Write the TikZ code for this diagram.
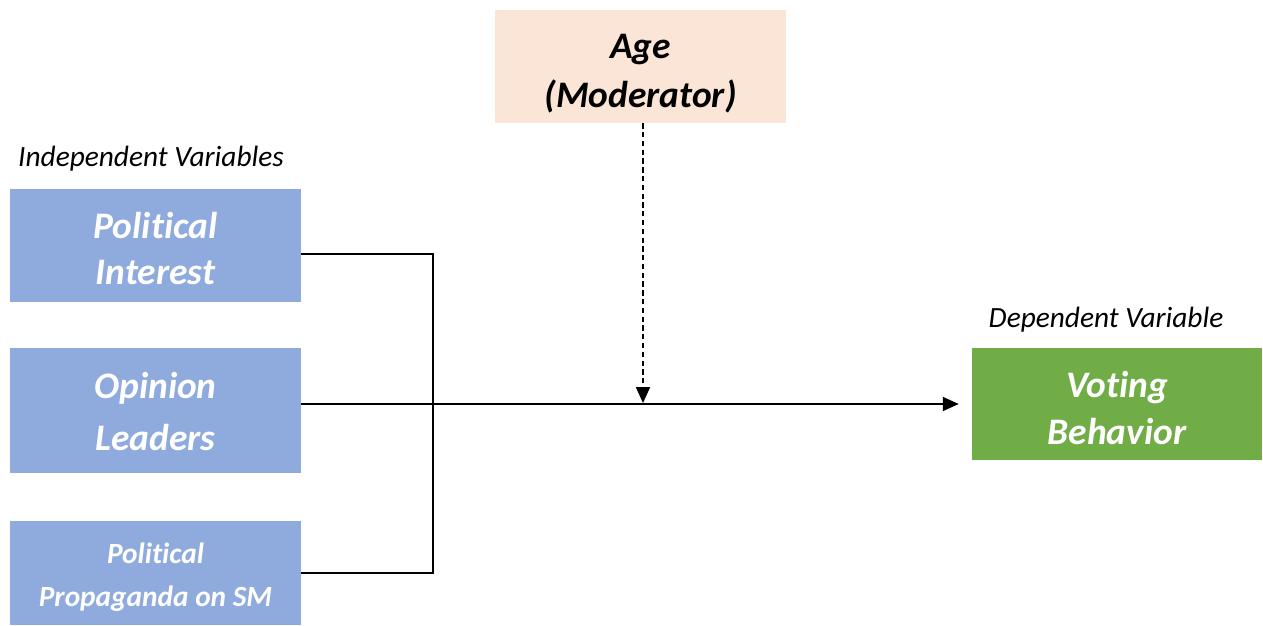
\documentclass[tikz,border=0pt]{standalone}
\usepackage{fontspec}
\setmainfont{Carlito}[Ligatures=NoCommon]
\usetikzlibrary{arrows.meta}
\definecolor{ivblue}{HTML}{8FAADC}
\definecolor{dvgreen}{HTML}{70AD47}
\definecolor{modpeach}{HTML}{FBE5D6}
\tikzset{
  varbox/.style={draw=none, inner sep=0pt},
  boxtext/.style={inner sep=0pt, align=center, text=white,
    font=\bfseries\itshape\fontsize{21.3}{26.2}\selectfont},
  caption/.style={inner sep=0pt, font=\itshape\fontsize{16.7}{20}\selectfont},
  link/.style={line width=0.7pt, black},
  tip/.style={-{Triangle[length=9pt,width=8pt]}},
}
\begin{document}
\begin{tikzpicture}[x=0.02cm,y=-0.02cm]
\useasboundingbox (0,0) rectangle (1263,625);
% boxes
\node[varbox, fill=modpeach, minimum width=5.84cm, minimum height=2.26cm] (age) at (640.5,66.5) {};
\node[varbox, fill=ivblue, minimum width=5.82cm, minimum height=2.26cm] (pi) at (155.5,245.5) {};
\node[varbox, fill=ivblue, minimum width=5.82cm, minimum height=2.5cm] (ol) at (155.5,410.5) {};
\node[varbox, fill=ivblue, minimum width=5.82cm, minimum height=2.08cm] (pp) at (155.5,573) {};
\node[varbox, fill=dvgreen, minimum width=5.8cm, minimum height=2.24cm] (vb) at (1117,404) {};
% box texts
\node[boxtext, text=black, font=\bfseries\itshape\fontsize{21.3}{27.9}\selectfont] (agetxt) at (640.5,74) {Age\\(Moderator)};
\node[boxtext] (pitxt) at (155.5,248.5) {Political\\Interest};
\node[boxtext, font=\bfseries\itshape\fontsize{21.3}{30}\selectfont] (oltxt) at (155.5,411.5) {Opinion\\Leaders};
\node[boxtext, font=\bfseries\itshape\fontsize{16.7}{24.5}\selectfont] (pptxt) at (155.5,577) {Political\\Propaganda on SM};
\node[boxtext, font=\bfseries\itshape\fontsize{21.3}{26.7}\selectfont] (vbtxt) at (1117,408) {Voting\\Behavior};
% captions
\node[caption] (iv) at (151,159) {Independent Variables};
\node[caption] (dv) at (1106,320) {Dependent Variable};
% connectors
\coordinate (j1) at (433,254);
\coordinate (j2) at (433,573);
\coordinate (m) at (643,403);
\draw[link] (j1 -| pi.east) -- (j1) -- (j2) -- (j2 -| pp.east);
\draw[link, tip, shorten >=7.4pt] (vb.west -| ol.east) -- (vb.west);
\draw[link, tip, dash pattern=on 3pt off 2pt] (age.south -| m) -- (m);
\end{tikzpicture}
\end{document}
